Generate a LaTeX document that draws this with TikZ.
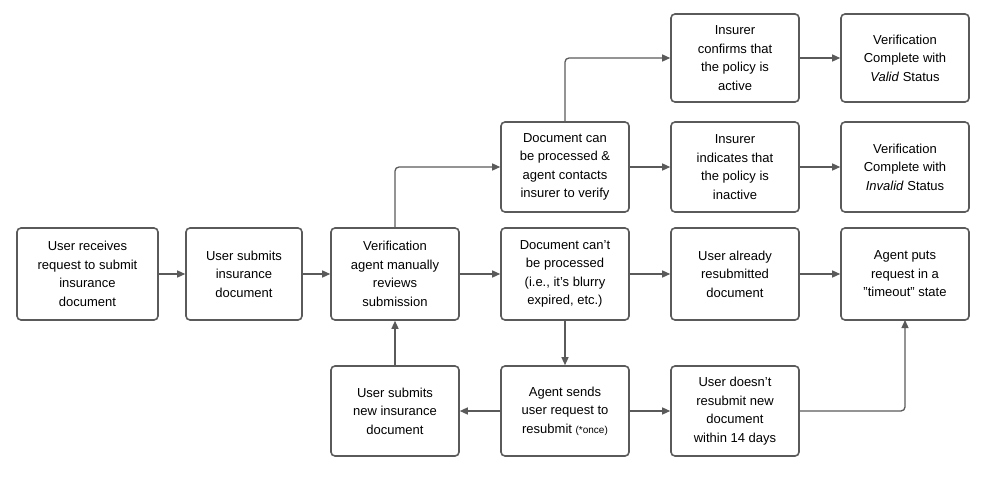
\documentclass[tikz,border=0pt]{standalone}
\usepackage{fontspec}
\setmainfont{Liberation Sans}
\usetikzlibrary{arrows.meta}
\definecolor{edge}{RGB}{90,90,90}
\begin{document}
\begin{tikzpicture}[x=1pt,y=-1pt,
  box/.style={draw=edge,line width=1.6pt,rounded corners=4pt,align=center,
    font=\fontsize{13}{18.5}\selectfont,inner sep=0pt},
  arr/.style={draw=edge,line width=1.3pt,-{Triangle[length=8pt,width=7pt]}}]
\useasboundingbox (0,0) rectangle (988,484);
\newcommand{\bx}[6]{\node[box,minimum width=#4-#2,minimum height=#5-#3] (#1) at ({(#2+#4)/2},{(#3+#5)/2}) {#6};}
\bx{a}{17}{228}{158}{320}{User receives\\request to submit\\insurance\\document}
\bx{b}{186}{228}{302}{320}{User submits\\insurance\\document}
\bx{c}{331}{228}{459}{320}{Verification\\agent manually\\reviews\\submission}
\bx{d}{501}{122}{629}{212}{Document can\\be processed \&\\agent contacts\\insurer to verify}
\bx{e}{501}{228}{629}{320}{Document can't\\be processed\\(i.e., it's blurry\\expired, etc.)}
\bx{f}{671}{14}{799}{102}{Insurer\\confirms that\\the policy is\\active}
\bx{g}{671}{122}{799}{212}{Insurer\\indicates that\\the policy is\\inactive}
\bx{h}{841}{14}{969}{102}{Verification\\Complete with\\\textit{Valid} Status}
\bx{i}{841}{122}{969}{212}{Verification\\Complete with\\\textit{Invalid} Status}
\bx{j}{671}{228}{799}{320}{User already\\resubmitted\\document}
\bx{k}{841}{228}{969}{320}{Agent puts\\request in a\\"timeout" state}
\bx{l}{331}{366}{459}{456}{User submits\\new insurance\\document}
\bx{m}{501}{366}{629}{456}{Agent sends\\user request to\\resubmit {\fontsize{10}{12}\selectfont(*once)}}
\bx{n}{671}{366}{799}{456}{User doesn't\\resubmit new\\document\\within 14 days}
\draw[arr] (a) -- (b);
\draw[arr] (b) -- (c);
\draw[arr] (c) -- (e);
\draw[arr,rounded corners=4pt] (c.north) |- (d.west);
\draw[arr] (d) -- (g);
\draw[arr,rounded corners=4pt] (d.north) |- (f.west);
\draw[arr] (f) -- (h);
\draw[arr] (g) -- (i);
\draw[arr] (e) -- (j);
\draw[arr] (j) -- (k);
\draw[arr] (e) -- (m);
\draw[arr] (m) -- (l);
\draw[arr] (l) -- (c);
\draw[arr] (m) -- (n);
\coordinate (t) at (905,411);
\draw[arr,rounded corners=4pt] (n.east) -- (t) -- (905,320);
\end{tikzpicture}
\end{document}
